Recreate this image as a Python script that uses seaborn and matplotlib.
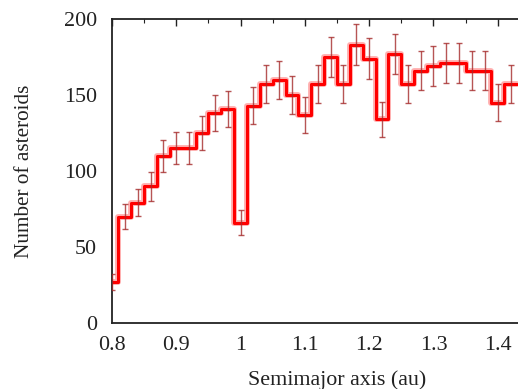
import numpy as np
import pandas as pd
import matplotlib
matplotlib.use("Agg")
import matplotlib.pyplot as plt
import seaborn as sns
from matplotlib.ticker import MultipleLocator

# Bin centres (au) and counts
centers = [0.80, 0.82, 0.84, 0.86, 0.88, 0.90, 0.92, 0.94, 0.96, 0.98,
           1.00, 1.02, 1.04, 1.06, 1.08, 1.10, 1.12, 1.14, 1.16, 1.18,
           1.20, 1.22, 1.24, 1.26, 1.28, 1.30, 1.32, 1.34, 1.36, 1.38,
           1.40, 1.42]
counts = [27, 70, 79, 90, 110, 115, 115, 125, 138, 141,
          66, 143, 157, 160, 150, 137, 157, 175, 157, 183,
          174, 134, 177, 157, 166, 169, 171, 171, 166, 166,
          145, 157]
errors = [5.2, 8.4, 8.9, 9.5, 10.5, 10.7, 10.7, 11.2, 11.7, 11.9,
          8.1, 12.0, 12.5, 12.6, 12.2, 11.7, 12.5, 13.2, 12.5, 13.5,
          13.2, 11.6, 13.3, 12.5, 12.9, 13.0, 13.1, 13.1, 12.9, 12.9,
          12.0, 12.5]
bin_width = 0.02
xticks = [0.8, 0.9, 1.0, 1.1, 1.2, 1.3, 1.4]
xtick_labels = ["0.8", "0.9", "1", "1.1", "1.2", "1.3", "1.4"]
yticks = [0, 50, 100, 150, 200]

df = pd.DataFrame({"a": centers, "n": counts, "err": errors})
edges = [round(c - bin_width / 2, 3) for c in centers] + [round(centers[-1] + bin_width / 2, 3)]

sns.set_theme(style="white")
plt.rcParams["font.family"] = ["Liberation Serif", "DejaVu Serif"]
plt.rcParams["mathtext.fontset"] = "stix"

fig = plt.figure(figsize=(5.18, 3.89), dpi=100)
# axes extends beyond the right edge of the figure (cropped like the reference)
ax = fig.add_axes([112 / 518, 1 - 323 / 389, 450 / 518, (323 - 19) / 389])

# soft halo under the line
sns.histplot(data=df, x="a", weights="n", bins=edges, element="step", fill=False,
             color="#ffb0b0", linewidth=4.2, ax=ax)
sns.histplot(data=df, x="a", weights="n", bins=edges, element="step", fill=False,
             color="#ff0000", linewidth=2.2, ax=ax)

ax.errorbar(df["a"], df["n"], yerr=df["err"], fmt="none", ecolor="#a52a2a",
            elinewidth=1.0, capsize=2, capthick=1.0, alpha=0.8, zorder=3)

ax.set_xlim(0.8, 1.5)
ax.set_ylim(0, 200)
ax.set_xticks(xticks)
ax.set_xticklabels(xtick_labels)
ax.set_yticks(yticks)
ax.xaxis.set_minor_locator(MultipleLocator(0.05))
ax.yaxis.set_minor_locator(MultipleLocator(10))
ax.tick_params(axis="both", which="both", direction="in", top=True, right=False,
               colors="#222222", labelcolor="#222222", labelsize=15.8)
ax.tick_params(axis="both", which="major", length=5, width=1.0)
ax.tick_params(axis="both", which="minor", length=3, width=0.8)
ax.tick_params(axis="y", pad=11)
ax.tick_params(axis="x", pad=9.5)

for side in ["left", "bottom", "top"]:
    ax.spines[side].set_visible(True)
    ax.spines[side].set_color("#222222")
    ax.spines[side].set_linewidth(1.3)
ax.spines["right"].set_visible(False)

ax.set_xlabel("Semimajor axis (au)", fontsize=15.8, color="#222222", labelpad=11)
ax.set_ylabel("Number of asteroids", fontsize=15.3, color="#222222", labelpad=21)
ax.grid(False)

fig.savefig("out.png", dpi=100)
